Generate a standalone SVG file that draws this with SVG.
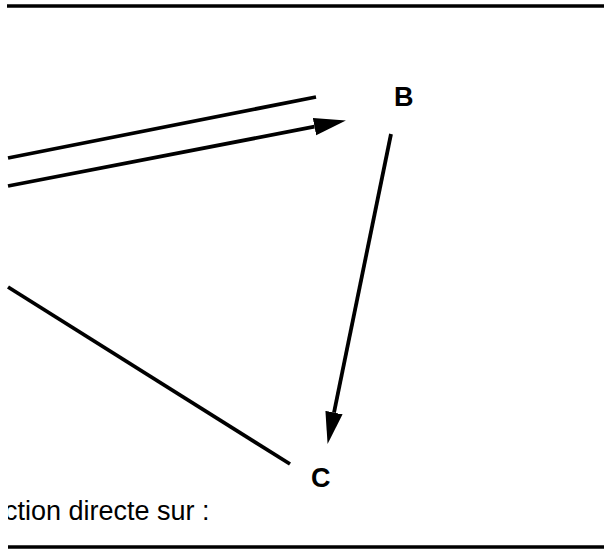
<svg xmlns="http://www.w3.org/2000/svg" width="604" height="549" viewBox="0 0 604 549">
<style>
.ln{stroke:#000;stroke-width:3.8;fill:none;stroke-linecap:butt}
.rule{stroke:#000;stroke-width:3.5}
.node{font-family:"Liberation Sans",Arial,sans-serif;font-weight:bold;font-size:27px;fill:#000}
.cap{font-family:"Liberation Sans",Arial,sans-serif;font-size:27px;fill:#000}
</style>
<defs>
<marker id="ah" markerUnits="userSpaceOnUse" markerWidth="32" markerHeight="20" viewBox="0 -9 31 18" refX="0" refY="0" orient="auto">
<path d="M0,-8.5 L31,0 L0,8.5 z" fill="#000"/>
</marker>
<clipPath id="clipL"><rect x="8" y="0" width="596" height="549"/></clipPath>
</defs>
<rect width="604" height="549" fill="#fff"/>
<line class="rule" x1="7" y1="6" x2="604" y2="6"/>
<line class="rule" x1="8" y1="547" x2="604" y2="547"/>
<g id="connectors">
<line class="ln" x1="8" y1="158" x2="316" y2="97"/>
<line class="ln" x1="8" y1="186" x2="314.5" y2="126.7" marker-end="url(#ah)"/>
<line class="ln" x1="391" y1="134" x2="334" y2="412.6" marker-end="url(#ah)"/>
<line class="ln" x1="8" y1="287" x2="290" y2="464"/>
</g>
<g id="node-B"><text class="node" x="394" y="106">B</text></g>
<g id="node-C"><text class="node" x="311" y="487">C</text></g>
<g id="label" clip-path="url(#clipL)"><text class="cap" x="4" y="520">ction directe sur :</text></g>
</svg>
